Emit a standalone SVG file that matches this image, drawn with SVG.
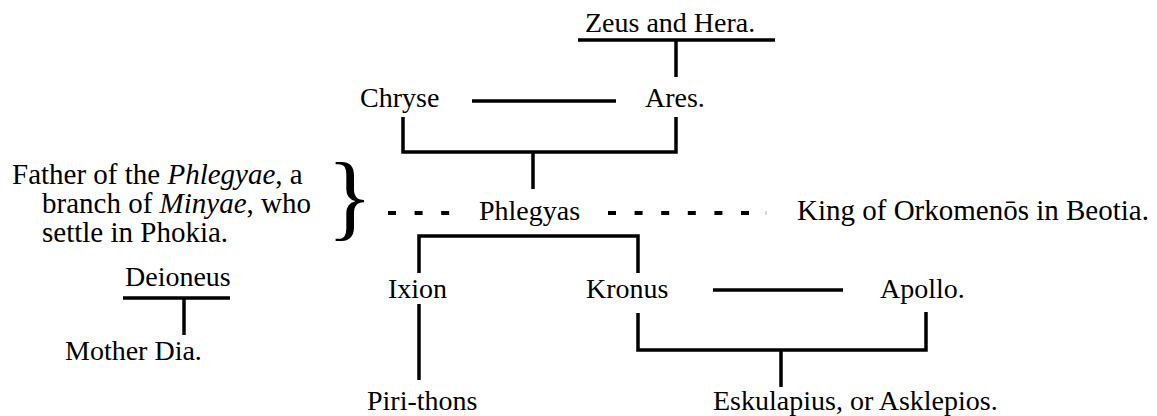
<svg xmlns="http://www.w3.org/2000/svg" width="1157" height="416" viewBox="0 0 1157 416">
<style>
text{font-family:'Liberation Serif','Times New Roman',serif;font-size:28px;fill:#000}
.big{font-size:29px}
.ln{stroke:#000;stroke-width:3.5;fill:none}
.ds{stroke:#000;stroke-width:4;fill:none;stroke-dasharray:8 18.6}
</style>
<rect width="1157" height="416" fill="#fff"/>
<g id="connectors">
<path class="ln" d="M578,40 H775 M676,40 V77"/>
<path class="ln" d="M472,101 H616"/>
<path class="ln" d="M403,117 V152 H676 V117 M533,152 V189"/>
<path class="ds" d="M388,213 H460"/>
<path class="ds" d="M608,213 H760"/>
<path d="M766,211 V215" stroke="#aaa" stroke-width="1"/>
<path class="ln" d="M419,273 V236 H638 V273"/>
<path class="ln" d="M419,304 V380"/>
<path class="ln" d="M713,290 H843"/>
<path class="ln" d="M638,313 V350 H926 V312 M781,350 V387"/>
<path class="ln" d="M123,298 H230 M184,298 V335"/>
</g>
<g id="zeus-hera"><text x="585" y="32">Zeus and Hera.</text></g>
<g id="chryse"><text x="360" y="107">Chryse</text></g>
<g id="ares"><text x="645" y="107">Ares.</text></g>
<g id="note">
<text class="big" x="12" y="184">Father of the <tspan font-style="italic">Phlegyae</tspan>, a</text>
<text class="big" x="42" y="213">branch of <tspan font-style="italic">Minyae</tspan>, who</text>
<text class="big" x="42" y="242">settle in Phokia.</text>
<text x="327" y="228" style="font-size:95px">}</text>
</g>
<g id="phlegyas"><text x="479" y="220">Phlegyas</text></g>
<g id="king"><text class="big" x="797" y="220">King of Orkomenōs in Beotia.</text></g>
<g id="ixion"><text x="388" y="298">Ixion</text></g>
<g id="kronus"><text x="586" y="298">Kronus</text></g>
<g id="apollo"><text x="880" y="298">Apollo.</text></g>
<g id="pirithons"><text x="367" y="410">Piri-thons</text></g>
<g id="eskulapius"><text x="713" y="410">Eskulapius, or Asklepios.</text></g>
<g id="deioneus"><text x="125" y="286">Deioneus</text></g>
<g id="mother-dia"><text x="65" y="360">Mother Dia.</text></g>
</svg>
